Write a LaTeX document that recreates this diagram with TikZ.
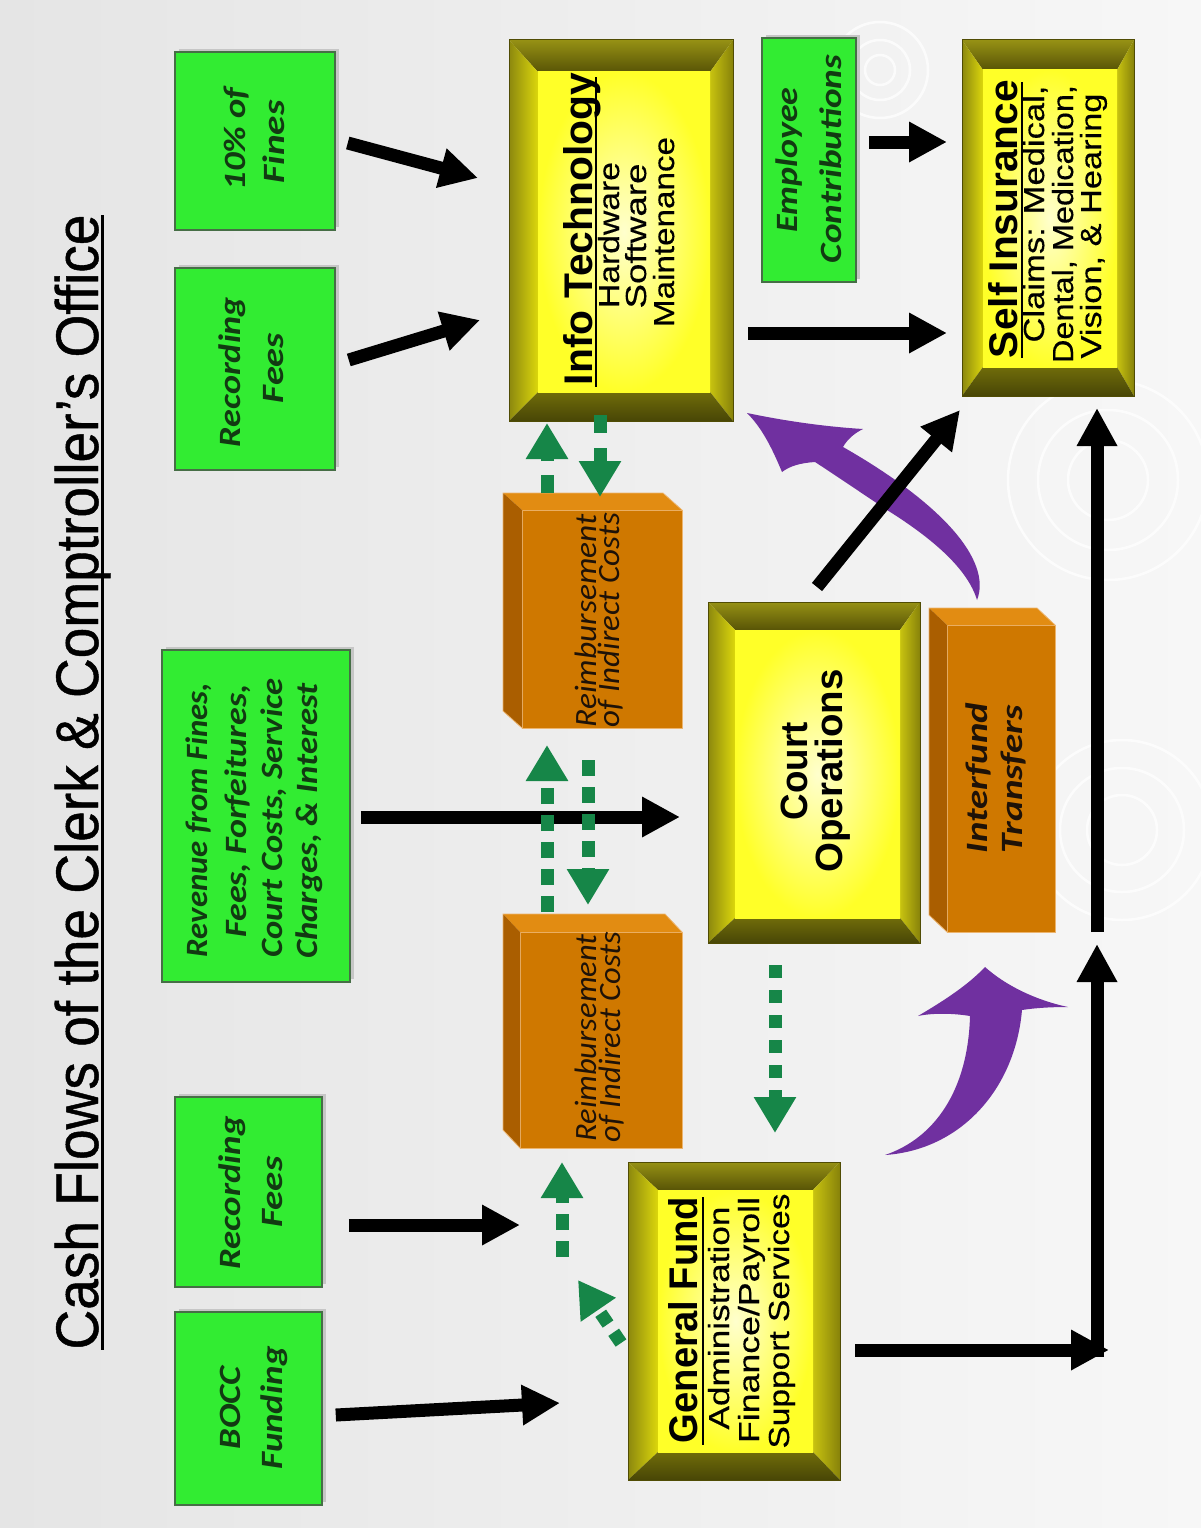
\documentclass[tikz,border=0pt]{standalone}
\usepackage{fontspec}
\usepackage{graphicx}
\setmainfont{Liberation Sans}
\newfontfamily\carl{Carlito}
\newfontface\ttlf{Liberation Sans}[FakeBold=0.8]
\newfontface\subf{Liberation Sans}[FakeBold=0.35]
\usetikzlibrary{arrows.meta,calc,shadows}

\definecolor{bgL}{RGB}{229,229,229}
\definecolor{bgR}{RGB}{247,247,247}
\definecolor{gfill}{RGB}{50,236,50}
\definecolor{gline}{RGB}{70,110,70}
\definecolor{gtext}{RGB}{18,58,18}
\definecolor{garr}{RGB}{22,134,72}
\definecolor{purp}{RGB}{112,48,160}
\definecolor{ofront}{RGB}{207,120,0}
\definecolor{otop}{RGB}{226,140,18}
\definecolor{oside}{RGB}{170,94,0}
\definecolor{oline}{RGB}{236,180,110}
\definecolor{otext}{RGB}{30,18,8}
\definecolor{yin}{RGB}{255,255,205}
\definecolor{yout}{RGB}{255,255,40}
\definecolor{bTa}{RGB}{150,145,20}
\definecolor{bTb}{RGB}{88,84,6}
\definecolor{bLa}{RGB}{140,136,14}
\definecolor{bLb}{RGB}{220,215,12}
\definecolor{bRa}{RGB}{200,195,16}
\definecolor{bRb}{RGB}{135,130,10}
\definecolor{bBa}{RGB}{112,108,10}
\definecolor{bBb}{RGB}{72,70,6}
\definecolor{bEdge}{RGB}{80,76,4}

\newcommand\fw[2]{\resizebox{#1pt}{\height}{#2}}

% bevelled yellow box: name, left, top, right, bottom bevel widths
\newcommand\bev[5]{%
  \path[top color=bTa,bottom color=bTb] (#1.north west) -- (#1.north east) -- ($(#1.north east)+(-#4,#3)$) -- ($(#1.north west)+(#2,#3)$) -- cycle;
  \path[left color=bLa,right color=bLb] (#1.north west) -- ($(#1.north west)+(#2,#3)$) -- ($(#1.south west)+(#2,-#5)$) -- (#1.south west) -- cycle;
  \path[left color=bRa,right color=bRb] (#1.north east) -- (#1.south east) -- ($(#1.south east)+(-#4,-#5)$) -- ($(#1.north east)+(-#4,#3)$) -- cycle;
  \path[top color=bBa,bottom color=bBb] (#1.south west) -- ($(#1.south west)+(#2,-#5)$) -- ($(#1.south east)+(-#4,-#5)$) -- (#1.south east) -- cycle;
  \path[inner color=yin,outer color=yout] ($(#1.north west)+(#2,#3)$) rectangle ($(#1.south east)+(-#4,-#5)$);
  \draw[bEdge,line width=1pt] (#1.north west) rectangle (#1.south east);
}
% orange 3d box: name, dx, dy of back face
\newcommand\obx[3]{%
  \fill[otop] (#1.north west) -- (#1.north east) -- ($(#1.north east)+(#2,#3)$) -- ($(#1.north west)+(#2,#3)$) -- cycle;
  \fill[oside] (#1.north west) -- ($(#1.north west)+(#2,#3)$) -- ($(#1.south west)+(#2,#3)$) -- (#1.south west) -- cycle;
  \draw[oline,line width=0.8pt] (#1.south west) -- ($(#1.south west)+(#2,#3)$) -- ($(#1.north west)+(#2,#3)$) -- ($(#1.north east)+(#2,#3)$) -- (#1.north east);
}

\begin{document}
\begin{tikzpicture}[x=1pt,y=-1pt,
  lbl/.style={rotate=90,anchor=base,inner sep=0pt,outer sep=0pt},
  ttl/.style={lbl,font=\ttlf\fontsize{60}{62}\selectfont},
  hdr/.style={lbl,font=\fontsize{40}{42}\selectfont\bfseries},
  sub/.style={lbl,font=\subf\fontsize{29}{30}\selectfont},
  grt/.style={lbl,text=gtext,font=\carl\fontsize{31}{31}\selectfont\bfseries\itshape},
  ort/.style={lbl,text=otext,font=\carl\fontsize{31}{31}\selectfont\itshape},
  gbox/.style={draw=gline,line width=1.5pt,fill=gfill,inner sep=0pt,
    drop shadow={shadow xshift=4pt,shadow yshift=3pt,fill=gray!45,opacity=1}},
  ybox/.style={inner sep=0pt,outer sep=0pt},
  obox/.style={fill=ofront,draw=oline,line width=0.8pt,inner sep=0pt,outer sep=0pt},
  blk/.style={line width=13pt,black,-{Triangle[length=38pt,width=38pt]}},
  gda/.style={line width=13pt,draw=garr,dash pattern=on 16pt off 11pt,-{Triangle[length=36pt,width=40pt]}}
]
\useasboundingbox (0,0) rectangle (1201,1528);
\shade[left color=bgL,right color=bgR] (0,0) rectangle (1201,1528);

% faint background rings
\begin{scope}[white,line width=2.5pt,opacity=.75]
  \draw (1122,830) circle (35) circle (62) circle (90);
  \draw (1108,480) circle (40) circle (70) circle (100);
  \draw (880,70) circle (15) circle (30) circle (48);
\end{scope}

% title
\node[ttl] (title) at (98,782) {\fw{1135}{Cash Flows of the Clerk \& Comptroller’s Office}};
\draw[line width=3pt] (102,215) -- (102,1350);

% green source boxes
\node[gbox,minimum width=160pt,minimum height=178pt] (fines) at (255,141) {};
\node[gbox,minimum width=160pt,minimum height=202pt] (recT) at (255,369) {};
\node[gbox,minimum width=188pt,minimum height=332pt] (rev) at (256,816) {};
\node[gbox,minimum width=147pt,minimum height=190pt] (recB) at (248.5,1192) {};
\node[gbox,minimum width=147pt,minimum height=193pt] (bocc) at (248.5,1408.5) {};
\node[gbox,minimum width=94pt,minimum height=244pt] (emp) at (809,160) {};

\node[grt] (fnA) at (245,139) {\fw{103}{10\% of}};
\node[grt] (fnB) at (284,142) {\fw{83}{Fines}};
\node[grt] (rtA) at (240,372) {\fw{150}{Recording}};
\node[grt] (rtB) at (283,368) {\fw{70}{Fees}};
\node[grt] (rvA) at (207,820) {\fw{274}{Revenue from Fines,}};
\node[grt] (rvB) at (246,811) {\fw{253}{Fees, Forfeitures,}};
\node[grt] (rvC) at (282,818) {\fw{279}{Court Costs, Service}};
\node[grt] (rvD) at (317,821) {\fw{275}{Charges, \& Interest}};
\node[grt] (rbA) at (240,1193) {\fw{153}{Recording}};
\node[grt] (rbB) at (282,1192) {\fw{71}{Fees}};
\node[grt] (bcA) at (240,1408) {\fw{83}{BOCC}};
\node[grt] (bcB) at (282,1408) {\fw{123}{Funding}};
\node[grt] (emA) at (797,160) {\fw{145}{Employee}};
\node[grt] (emB) at (841,159) {\fw{208}{Contributions}};

% yellow bevelled boxes
\node[ybox,minimum width=224pt,minimum height=381pt] (it) at (621,230.5) {};
\node[ybox,minimum width=172pt,minimum height=356pt] (si) at (1048,218) {};
\node[ybox,minimum width=212pt,minimum height=341pt] (co) at (814,772.5) {};
\node[ybox,minimum width=212pt,minimum height=318pt] (gf) at (734,1321) {};
\bev{it}{29}{32}{23}{29}
\bev{si}{21}{30}{17}{29}
\bev{co}{27}{28}{20}{25}
\bev{gf}{30}{28}{27}{28}

\node[hdr] (itH) at (592,229) {\fw{312}{Info Technology}};
\draw[line width=2.5pt] (596,77) -- (596,387);
\node[sub] (itA) at (619,235) {\fw{146}{Hardware}};
\node[sub] (itB) at (646,236) {\fw{145}{Software}};
\node[sub] (itC) at (674,232) {\fw{190}{Maintenance}};

\node[hdr] (siH) at (1017,219) {\fw{278}{Self Insurance}};
\draw[line width=2.5pt] (1022,82) -- (1022,358);
\node[sub] (siA) at (1044,214) {\fw{257}{Claims: Medical,}};
\node[sub] (siB) at (1073,224) {\fw{278}{Dental, Medication,}};
\node[sub] (siC) at (1101,226) {\fw{265}{Vision, \& Hearing}};

\node[hdr,font=\fontsize{38}{40}\selectfont\bfseries] (coA) at (807,771) {\fw{98}{Court}};
\node[hdr,font=\fontsize{38}{40}\selectfont\bfseries] (coB) at (842,771) {\fw{203}{Operations}};

\node[hdr] (gfH) at (697,1320) {\fw{246}{General Fund}};
\draw[line width=2.5pt] (703,1197) -- (703,1445);
\node[sub] (gfA) at (729,1318) {\fw{223}{Administration}};
\node[sub] (gfB) at (759,1320) {\fw{246}{Finance/Payroll}};
\node[sub] (gfC) at (789,1321) {\fw{255}{Support Services}};

% orange boxes
\node[obox,minimum width=160pt,minimum height=218pt] (rt) at (602,619) {};
\node[obox,minimum width=162pt,minimum height=216pt] (rb) at (601,1040) {};
\node[obox,minimum width=108pt,minimum height=307pt] (ift) at (1001,778.5) {};
\obx{rt}{-19}{-17}
\obx{rb}{-17}{-18}
\obx{ift}{-18}{-17}

\node[ort] (rtxA) at (596,621) {\fw{213}{Reimbursement}};
\node[ort] (rtxB) at (619,620) {\fw{214}{of Indirect Costs}};
\node[ort] (rbxA) at (596,1038) {\fw{207}{Reimbursement}};
\node[ort] (rbxB) at (620,1037) {\fw{211}{of Indirect Costs}};
\node[grt,text=otext] (ifA) at (987,778) {\fw{150}{Interfund}};
\node[grt,text=otext] (ifB) at (1022,779) {\fw{148}{Transfers}};

% purple curved arrows
\fill[purp] (977,600) .. controls (968,570) and (935,540) .. (887,510)
  .. controls (860,492) and (835,475) .. (815,462)
  .. controls (800,463) and (790,466) .. (782,472)
  .. controls (772,448) and (762,428) .. (747,413)
  .. controls (790,422) and (830,427) .. (863,429)
  .. controls (853,434) and (847,440) .. (843,447)
  .. controls (880,468) and (925,498) .. (953,530)
  .. controls (975,555) and (985,580) .. (977,600) -- cycle;
\fill[purp] (885,1155) .. controls (935,1138) and (968,1090) .. (970,1016)
  .. controls (952,1013) and (932,1013) .. (918,1016)
  .. controls (945,1000) and (968,985) .. (985,967)
  .. controls (1005,985) and (1035,1000) .. (1068,1007)
  .. controls (1050,1007) and (1035,1008) .. (1022,1010)
  .. controls (1015,1090) and (960,1150) .. (885,1155) -- cycle;

% black arrows
\draw[blk] ($(fines.east)+(12,2)$) -- ($(it.west)+(-31,-52.5)$);
\draw[blk] ($(recT.east)+(13,-9)$) -- ($(it.west)+(-29,89.5)$);
\draw[blk] ($(emp.east)+(12,-18)$) -- ($(si.west)+(-15,-76)$);
\draw[blk] ($(it.east)+(15,102.5)$) -- ($(si.west)+(-15,115)$);
\draw[blk] ($(rev.east)+(10,1)$) -- ($(co.west)+(-28,44.5)$);
\draw[blk] ($(co.north)+(3,-15)$) -- ($(si.south)+(-88,14)$);
\draw[blk] ($(recB.east)+(26,33)$) -- ($(gf.west)+(-108,-96)$);
\draw[blk] ($(bocc.east)+(13,6.5)$) -- ($(gf.west)+(-68,82)$);
\coordinate (c1) at (1097,1350);
\coordinate (c2) at (1097,944);
\draw[blk] ($(gf.east)+(15,29)$) -- ($(c1)+(12,0)$);
\draw[blk] ($(c1)+(0,6.5)$) -- (c2);
\draw[blk] ($(c2)+(0,-12)$) -- ($(si.south)+(49,12)$);

% green dashed arrows
\draw[gda,dash pattern=on 18pt off 14pt] ($(rt.north)+(-55,-17)$) -- ($(it.south)+(-74,2)$);
\draw[gda,dash pattern=on 18pt off 15pt] ($(it.south)+(-21,-6)$) -- ($(rt.north)+(-2,-13)$);
\draw[gda] ($(rb.north)+(-54,-20)$) -- ($(rt.south)+(-55,17)$);
\draw[gda] ($(rt.south)+(-14,32)$) -- ($(rb.north)+(-13,-27)$);
\draw[gda,dash pattern=on 13pt off 12pt] ($(co.south)+(-39,22)$) -- ($(gf.north)+(41,-29)$);
\draw[gda] ($(gf.west)+(-66,-64)$) -- ($(rb.south)+(-39,14)$);
\draw[gda,dash pattern=on 13pt off 10pt] ($(gf.west)+(-7,22)$) -- ($(rb.south)+(-23,132)$);
\end{tikzpicture}
\end{document}
